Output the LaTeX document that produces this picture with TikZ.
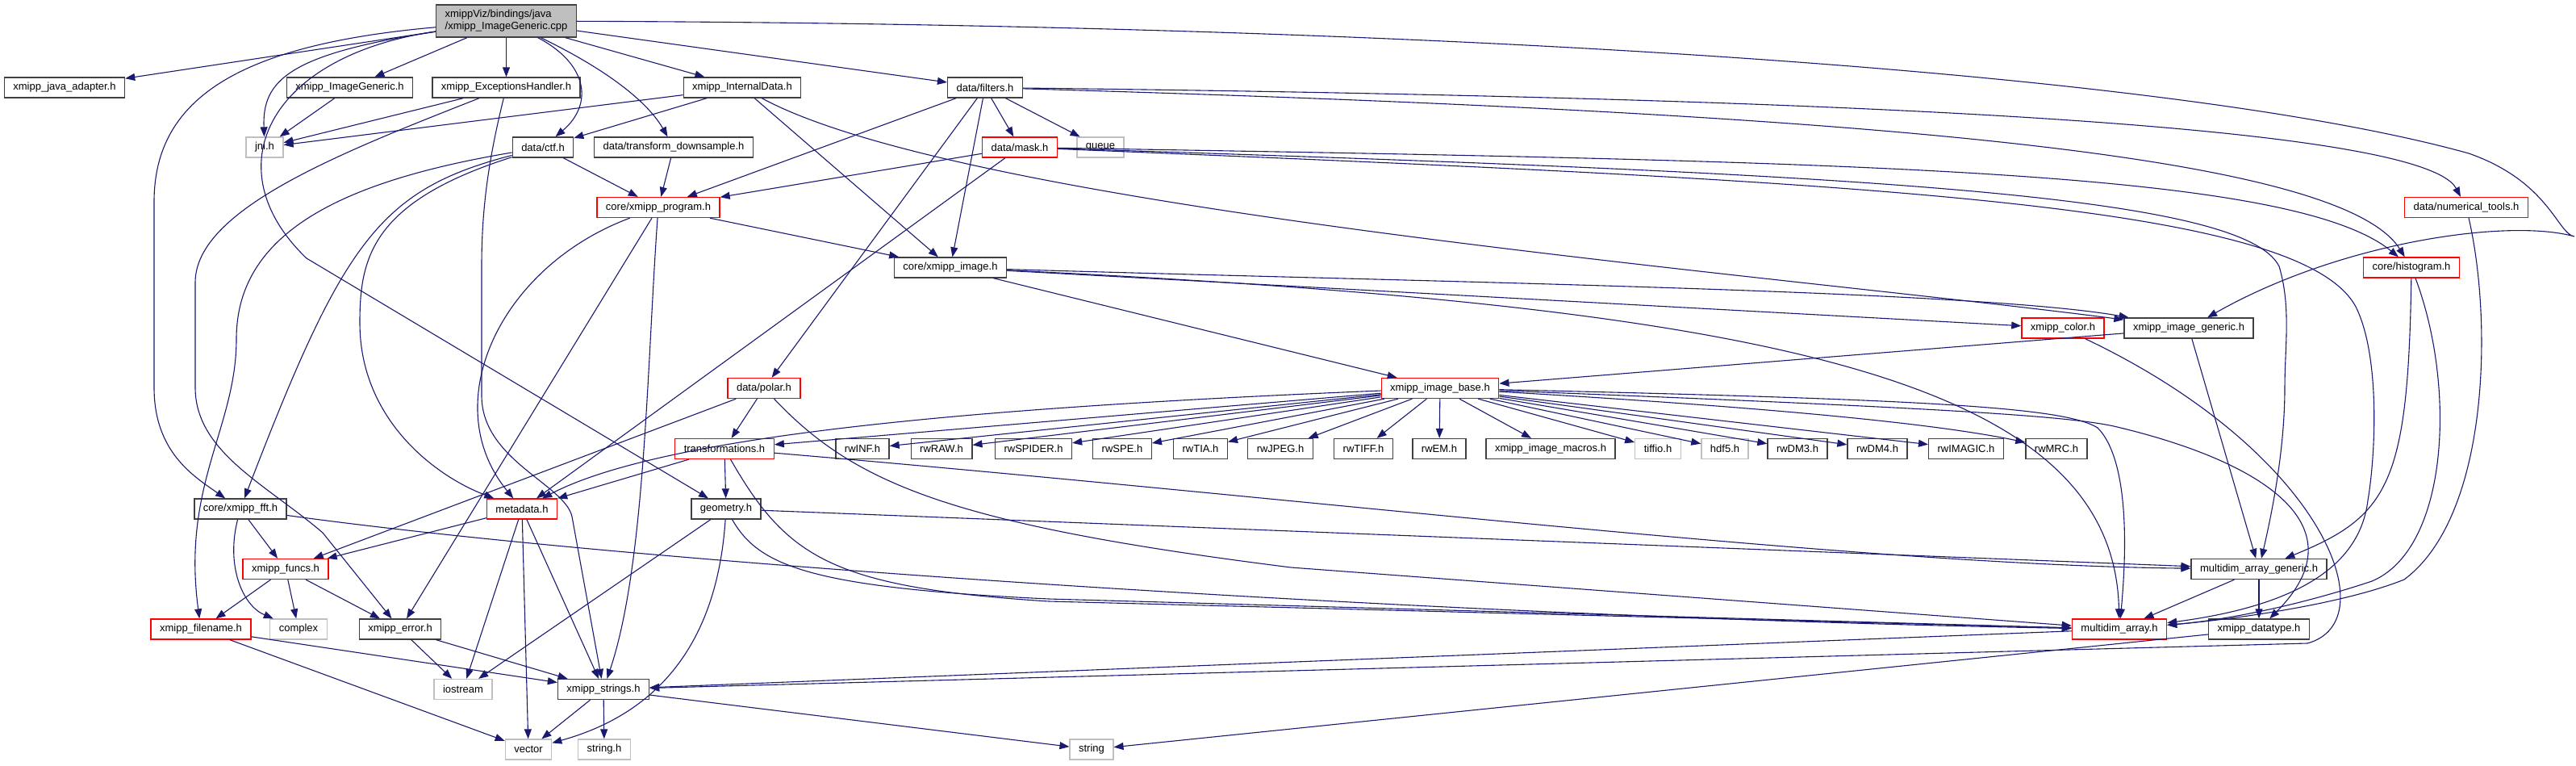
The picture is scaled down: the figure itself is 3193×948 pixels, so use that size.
\documentclass[tikz,border=0pt]{standalone}
\usepackage{fontspec}
\setmainfont{Liberation Sans}
\usetikzlibrary{arrows.meta}
\definecolor{mblue}{HTML}{191970}
\begin{document}
\begin{tikzpicture}[x=1pt,y=-1pt,->,>={Triangle[length=12pt,width=9pt]},color=mblue,line width=1.1pt]
  \tikzstyle{inc}=[rectangle,draw=black!75,line width=1.3pt,text=black,minimum height=25pt,inner xsep=11pt,inner ysep=2pt,font=\fontsize{13}{15}\selectfont]
  \tikzstyle{part}=[inc,draw=red]
  \tikzstyle{sys}=[inc,draw=black!25]
  \useasboundingbox (0,0) rectangle (3193,948);
  \node[inc,fill=black!25,align=left,minimum height=40pt] (H_root) at (627.5,26) {xmippViz/bindings/java\\/xmipp\_ImageGeneric.cpp};
  \node[inc] (H_java) at (80,108.5) {xmipp\_java\_adapter.h};
  \node[inc] (H_imggen) at (433.5,108.5) {xmipp\_ImageGeneric.h};
  \node[inc] (H_exc) at (627.5,108.5) {xmipp\_ExceptionsHandler.h};
  \node[inc] (H_intdata) at (920,108.5) {xmipp\_InternalData.h};
  \node[inc] (H_filters) at (1221,108.5) {data/filters.h};
  \node[sys] (H_jni) at (328,182.5) {jni.h};
  \node[inc] (H_ctf) at (673,182.5) {data/ctf.h};
  \node[inc] (H_downs) at (835,182.5) {data/transform\_downsample.h};
  \node[part] (H_mask) at (1264,182.5) {data/mask.h};
  \node[sys] (H_queue) at (1364,182.5) {queue};
  \node[part] (H_program) at (816,257) {core/xmipp\_program.h};
  \node[part] (H_numtools) at (3057,257) {data/numerical\_tools.h};
  \node[inc] (H_image) at (1178,331.5) {core/xmipp\_image.h};
  \node[part] (H_hist) at (2989,331.5) {core/histogram.h};
  \node[part] (H_color) at (2557,406.5) {xmipp\_color.h};
  \node[inc] (H_imgeneric) at (2713,406.5) {xmipp\_image\_generic.h};
  \node[part] (H_polar) at (947,481) {data/polar.h};
  \node[part] (H_imbase) at (1785,481) {xmipp\_image\_base.h};
  \node[part] (H_transf) at (898,556) {transformations.h};
  \node[inc] (H_rwinf) at (1069,556) {rwINF.h};
  \node[inc] (H_rwraw) at (1167,556) {rwRAW.h};
  \node[inc] (H_rwspider) at (1281,556) {rwSPIDER.h};
  \node[inc] (H_rwspe) at (1391,556) {rwSPE.h};
  \node[inc] (H_rwtia) at (1488,556) {rwTIA.h};
  \node[inc] (H_rwjpeg) at (1587,556) {rwJPEG.h};
  \node[inc] (H_rwtiff) at (1690,556) {rwTIFF.h};
  \node[inc] (H_rwem) at (1784,556) {rwEM.h};
  \node[inc] (H_macros) at (1922,556) {xmipp\_image\_macros.h};
  \node[sys] (H_tiffio) at (2055,556) {tiffio.h};
  \node[sys] (H_hdf) at (2138,556) {hdf5.h};
  \node[inc] (H_rwdm3) at (2228,556) {rwDM3.h};
  \node[inc] (H_rwdm4) at (2327,556) {rwDM4.h};
  \node[inc] (H_rwimagic) at (2437,556) {rwIMAGIC.h};
  \node[inc] (H_rwmrc) at (2549,556) {rwMRC.h};
  \node[inc] (H_fft) at (298,630.5) {core/xmipp\_fft.h};
  \node[part] (H_meta) at (647,630.5) {metadata.h};
  \node[inc] (H_geom) at (900,630.5) {geometry.h};
  \node[part] (H_funcs) at (354,705) {xmipp\_funcs.h};
  \node[inc] (H_mag) at (2800,705) {multidim\_array\_generic.h};
  \node[part] (H_fname) at (249,779.5) {xmipp\_filename.h};
  \node[sys] (H_complex) at (370,779.5) {complex};
  \node[inc] (H_error) at (496,779.5) {xmipp\_error.h};
  \node[part] (H_ma) at (2627,779.5) {multidim\_array.h};
  \node[inc] (H_dtype) at (2800,779.5) {xmipp\_datatype.h};
  \node[sys] (H_iostream) at (574,854) {iostream};
  \node[inc] (H_strings) at (748,854) {xmipp\_strings.h};
  \node[sys] (H_vector) at (655,928.5) {vector};
  \node[sys] (H_stringh) at (749,928.5) {string.h};
  \node[sys] (H_string) at (1353,928.5) {string};
  \draw (H_root) -- (H_java);
  \draw (H_root) -- (H_imggen);
  \draw (H_root) -- (H_exc);
  \draw (H_root) -- (H_intdata);
  \draw (H_root) -- (H_filters);
  \draw (H_root) .. controls (357,67) and (325,100) .. (H_jni);
  \draw (H_root) .. controls (300,55) and (191,120) .. (191,250) -- (191,480) .. controls (191,560) and (240,590) .. (H_fft);
  \draw (H_root) .. controls (330,70) and (265,210) .. (380,320) -- (H_geom);
  \draw (H_root) .. controls (730,80) and (735,130) .. (H_ctf);
  \draw (H_root) .. controls (760,90) and (805,130) .. (H_downs);
  \draw (H_root) .. controls (1800,30) and (2700,90) .. (3060,190) .. controls (3160,225) and (3170,290) .. (3191,293) .. controls (3110,270) and (2900,300) .. (H_imgeneric);
  \draw (H_imggen) -- (H_jni);
  \draw (H_exc) -- (H_jni);
  \draw (H_exc) .. controls (420,190) and (242,260) .. (242,350) -- (242,480) .. controls (242,560) and (330,600) .. (400,660) -- (H_error);
  \draw (H_exc) .. controls (605,200) and (597,260) .. (597,330) -- (597,490) .. controls (597,570) and (700,600) .. (709,640) -- (H_strings);
  \draw (H_intdata) -- (H_jni);
  \draw (H_intdata) -- (H_ctf);
  \draw (H_intdata) -- (H_image);
  \draw (H_intdata) .. controls (1200,260) and (2200,340) .. (H_imgeneric);
  \draw (H_filters) -- (H_program);
  \draw (H_filters) -- (H_image);
  \draw (H_filters) -- (H_mask);
  \draw (H_filters) -- (H_queue);
  \draw (H_filters) -- (H_polar);
  \draw (H_filters) .. controls (2200,120) and (3000,150) .. (H_numtools);
  \draw (H_filters) .. controls (2300,140) and (2900,190) .. (H_hist);
  \draw (H_mask) -- (H_program);
  \draw (H_mask) -- (H_meta);
  \draw (H_mask) .. controls (2300,200) and (2840,210) .. (H_hist);
  \draw (H_mask) .. controls (2300,215) and (2780,240) .. (2825,330) .. controls (2840,380) and (2832,430) .. (2832,480) .. controls (2832,560) and (2815,640) .. (H_mag);
  \draw (H_mask) .. controls (2300,225) and (2850,250) .. (2920,380) .. controls (2950,440) and (2945,560) .. (2935,620) .. controls (2925,700) and (2850,750) .. (H_ma);
  \draw (H_numtools) .. controls (3090,400) and (3085,640) .. (2980,718) .. controls (2900,750) and (2760,768) .. (H_ma);
  \draw (H_hist) .. controls (2985,600) and (2960,640) .. (H_mag);
  \draw (H_hist) .. controls (3045,480) and (3035,680) .. (2940,720) .. controls (2850,750) and (2760,768) .. (H_ma);
  \draw (H_downs) -- (H_program);
  \draw (H_ctf) -- (H_program);
  \draw (H_ctf) .. controls (420,225) and (293,290) .. (293,420) .. controls (293,530) and (225,600) .. (H_fname);
  \draw (H_ctf) .. controls (470,235) and (425,300) .. (H_fft);
  \draw (H_ctf) .. controls (460,250) and (446,320) .. (446,400) .. controls (446,520) and (540,590) .. (H_meta);
  \draw (H_program) -- (H_image);
  \draw (H_program) .. controls (620,330) and (540,500) .. (H_meta);
  \draw (H_program) -- (H_error);
  \draw (H_program) .. controls (802,450) and (800,700) .. (H_strings);
  \draw (H_image) -- (H_imbase);
  \draw (H_image) .. controls (1800,350) and (2450,360) .. (H_imgeneric);
  \draw (H_image) -- (H_color);
  \draw (H_image) .. controls (2200,380) and (2620,470) .. (H_ma);
  \draw (H_imgeneric) -- (H_imbase);
  \draw (H_imgeneric) -- (H_mag);
  \draw (H_color) .. controls (2880,560) and (2960,770) .. (2860,797) -- (H_strings);
  \draw (H_imbase) -- (H_transf);
  \draw (H_imbase) -- (H_rwinf);
  \draw (H_imbase) -- (H_rwraw);
  \draw (H_imbase) -- (H_rwspider);
  \draw (H_imbase) -- (H_rwspe);
  \draw (H_imbase) -- (H_rwtia);
  \draw (H_imbase) -- (H_rwjpeg);
  \draw (H_imbase) -- (H_rwtiff);
  \draw (H_imbase) -- (H_rwem);
  \draw (H_imbase) -- (H_macros);
  \draw (H_imbase) -- (H_tiffio);
  \draw (H_imbase) -- (H_hdf);
  \draw (H_imbase) -- (H_rwdm3);
  \draw (H_imbase) -- (H_rwdm4);
  \draw (H_imbase) -- (H_rwimagic);
  \draw (H_imbase) .. controls (2200,505) and (2400,525) .. (H_rwmrc);
  \draw (H_imbase) .. controls (1200,505) and (820,540) .. (H_meta);
  \draw (H_imbase) .. controls (2400,495) and (2560,505) .. (2600,530) .. controls (2630,560) and (2640,640) .. (H_ma);
  \draw (H_imbase) .. controls (2400,505) and (2560,515) .. (2620,528) .. controls (2800,570) and (2930,650) .. (H_dtype);
  \draw (H_polar) -- (H_transf);
  \draw (H_polar) -- (H_funcs);
  \draw (H_polar) .. controls (1060,600) and (1180,650) .. (1600,703) -- (H_ma);
  \draw (H_transf) -- (H_geom);
  \draw (H_transf) -- (H_meta);
  \draw (H_transf) .. controls (1600,615) and (2300,700) .. (H_mag);
  \draw (H_transf) .. controls (975,690) and (1030,728) .. (1300,745) -- (H_ma);
  \draw (H_geom) -- (H_iostream);
  \draw (H_geom) .. controls (890,780) and (830,880) .. (H_vector);
  \draw (H_geom) -- (H_mag);
  \draw (H_geom) .. controls (940,700) and (1000,728) .. (1300,742) -- (H_ma);
  \draw (H_fft) -- (H_funcs);
  \draw (H_fft) .. controls (280,700) and (300,750) .. (H_complex);
  \draw (H_fft) .. controls (800,700) and (1800,765) .. (H_ma);
  \draw (H_meta) -- (H_funcs);
  \draw (H_meta) -- (H_iostream);
  \draw (H_meta) -- (H_vector);
  \draw (H_meta) -- (H_strings);
  \draw (H_funcs) -- (H_fname);
  \draw (H_funcs) -- (H_complex);
  \draw (H_funcs) -- (H_error);
  \draw (H_fname) -- (H_strings);
  \draw (H_fname) -- (H_vector);
  \draw (H_error) -- (H_iostream);
  \draw (H_error) -- (H_strings);
  \draw (H_strings) -- (H_vector);
  \draw (H_strings) -- (H_stringh);
  \draw (H_strings) -- (H_string);
  \draw (H_mag) -- (H_ma);
  \draw (H_mag) -- (H_dtype);
  \draw (H_ma) -- (H_strings);
  \draw (H_dtype) -- (H_string);
\end{tikzpicture}
\end{document}
